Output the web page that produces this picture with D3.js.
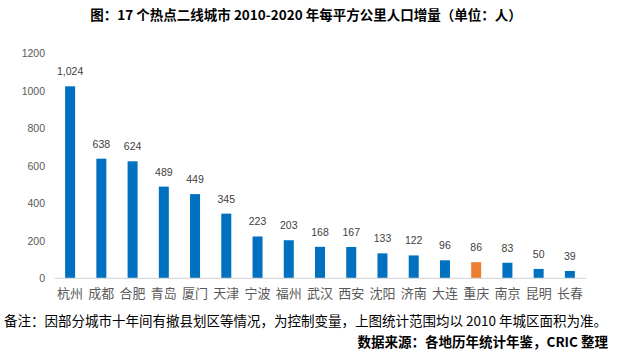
<!DOCTYPE html>
<html><head><meta charset="utf-8">
<script src="https://cdn.jsdelivr.net/npm/d3@7/dist/d3.min.js"></script>
<style>body{margin:0;background:#fff}svg{display:block}</style>
</head><body><svg id="c" width="620" height="358"></svg>
<script>
const categories = ["杭州","成都","合肥","青岛","厦门","天津","宁波","福州","武汉","西安","沈阳","济南","大连","重庆","南京","昆明","长春"];
const values = [1024,638,624,489,449,345,223,203,168,167,133,122,96,86,83,50,39];
const highlight = ["重庆"];
const yTicks = [0,200,400,600,800,1000,1200];
const title = "图：17 个热点二线城市 2010-2020 年每平方公里人口增量（单位：人）";
const note = "备注：因部分城市十年间有撤县划区等情况，为控制变量，上图统计范围均以 2010 年城区面积为准。";
const source = "数据来源：各地历年统计年鉴，CRIC 整理";

const svg = d3.select("#c");
const cjk = "'Noto Sans CJK SC','Noto Sans',sans-serif";
const x = d3.scaleBand().domain(categories).range([54.5, 585.5]).paddingInner(0.68).paddingOuter(0.34);
const y = d3.scaleLinear().domain([0,1200]).range([278.3, 53.3]);

svg.append("text").attr("x", 306).attr("y", 20).attr("text-anchor","middle")
  .attr("font-family", cjk).attr("font-weight","bold").attr("font-size", 13.5).attr("fill","#000").text(title);

const yAxis = d3.axisLeft(y).tickValues(yTicks).tickFormat(d3.format("d")).tickSize(0).tickPadding(0);
const gy = svg.append("g").attr("transform","translate(45,0)").call(yAxis);
gy.select(".domain").remove();
gy.selectAll("text").attr("font-family","'Liberation Sans',Arial,sans-serif").attr("font-size",10.5).attr("fill","#595959").attr("dy","0.35em");

svg.append("g").selectAll("rect").data(values).join("rect")
  .attr("x",(d,i)=>x(categories[i])).attr("width",x.bandwidth())
  .attr("y",d=>y(d)).attr("height",d=>y(0)-y(d))
  .attr("fill",(d,i)=>highlight.includes(categories[i])?"#ED7D31":"#0070C0");

svg.append("g").selectAll("text").data(values).join("text")
  .attr("x",(d,i)=>x(categories[i])+x.bandwidth()/2).attr("y",d=>y(d)-11)
  .attr("text-anchor","middle").attr("font-family","'Liberation Sans',Arial,sans-serif").attr("font-size",10.5).attr("fill","#404040")
  .text(d=>d3.format(",")(d));

const xAxis = d3.axisBottom(x).tickSize(0).tickPadding(0);
const gx = svg.append("g").attr("transform",`translate(0,${y(0)})`).call(xAxis);
gx.select(".domain").attr("stroke","#D9D9D9").attr("stroke-width",1.3).attr("d","M54.5,0H586");
gx.selectAll("text").attr("font-family",cjk).attr("font-size",13).attr("fill","#595959").attr("dy","0").attr("y",20);

svg.append("text").attr("x",4).attr("y",326).attr("font-family",cjk).attr("font-size",13.5).attr("fill","#000").text(note);
svg.append("text").attr("x",608).attr("y",347).attr("text-anchor","end").attr("font-family",cjk).attr("font-weight","bold").attr("font-size",13.5).attr("fill","#000").text(source);
</script></body></html>
